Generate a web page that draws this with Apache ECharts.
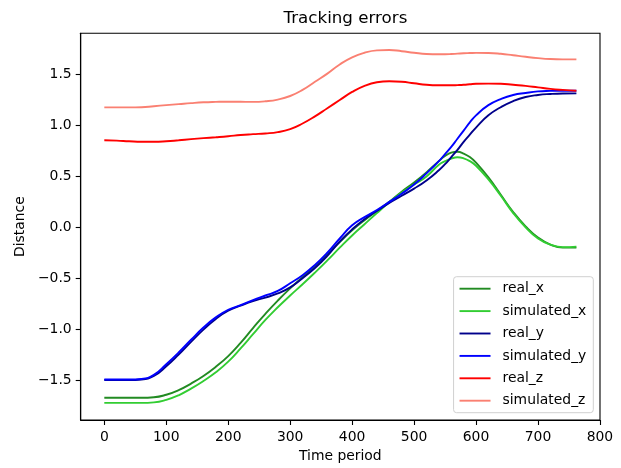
<!DOCTYPE html>
<html>
<head>
<meta charset="utf-8">
<script src="https://cdn.jsdelivr.net/npm/echarts@6/dist/echarts.min.js"></script>
<style>
  html, body { margin: 0; padding: 0; background: #ffffff; }
  #chart { width: 621px; height: 468px; }
</style>
</head>
<body>
<div id="chart"></div>
<script>
// Time steps (every 20 periods, denser around the x peak)
const timeSteps = [0, 20, 40, 60, 80, 100, 120, 140, 160, 180, 200, 220, 240, 260, 280, 300, 320, 340, 360, 380,
  400, 420, 440, 460, 480, 500, 520, 540, 550, 560, 570, 580, 590, 600, 620, 640, 660, 680, 700, 720, 740, 762];

const realX = [-1.675, -1.675, -1.675, -1.675, -1.67, -1.645, -1.60, -1.535, -1.46, -1.37, -1.265, -1.135, -0.99, -0.85, -0.72, -0.60, -0.49, -0.38, -0.265, -0.145,
  -0.03, 0.07, 0.16, 0.25, 0.35, 0.44, 0.54, 0.65, 0.70, 0.733, 0.742, 0.725, 0.69, 0.635, 0.49, 0.32, 0.15, 0.01, -0.10, -0.17, -0.20, -0.20];

const simulatedX = [-1.725, -1.725, -1.725, -1.725, -1.72, -1.695, -1.65, -1.585, -1.51, -1.425, -1.32, -1.19, -1.05, -0.91, -0.785, -0.67, -0.56, -0.445, -0.325, -0.20,
  -0.08, 0.03, 0.14, 0.245, 0.34, 0.42, 0.50, 0.615, 0.65, 0.675, 0.688, 0.678, 0.65, 0.605, 0.47, 0.31, 0.14, 0.0, -0.11, -0.17, -0.195, -0.19];

const realY = [-1.50, -1.50, -1.50, -1.495, -1.46, -1.365, -1.25, -1.125, -1.005, -0.90, -0.82, -0.77, -0.725, -0.69, -0.65, -0.59, -0.50, -0.40, -0.28, -0.14,
  -0.02, 0.08, 0.16, 0.24, 0.31, 0.38, 0.46, 0.56, 0.62, 0.69, 0.76, 0.84, 0.91, 0.98, 1.10, 1.18, 1.24, 1.28, 1.30, 1.31, 1.315, 1.316];

const simulatedY = [-1.495, -1.495, -1.495, -1.49, -1.45, -1.345, -1.23, -1.105, -0.985, -0.885, -0.81, -0.765, -0.715, -0.67, -0.625, -0.55, -0.47, -0.37, -0.25, -0.11,
  0.02, 0.10, 0.17, 0.25, 0.33, 0.42, 0.53, 0.65, 0.72, 0.79, 0.87, 0.95, 1.03, 1.10, 1.20, 1.26, 1.30, 1.32, 1.335, 1.34, 1.342, 1.342];

const realZ = [0.855, 0.852, 0.845, 0.84, 0.84, 0.845, 0.855, 0.866, 0.876, 0.885, 0.895, 0.907, 0.915, 0.922, 0.935, 0.965, 1.02, 1.09, 1.17, 1.25,
  1.33, 1.39, 1.425, 1.435, 1.43, 1.415, 1.40, 1.395, 1.395, 1.395, 1.397, 1.40, 1.405, 1.41, 1.412, 1.41, 1.40, 1.39, 1.375, 1.36, 1.35, 1.342];

const simulatedZ = [1.178, 1.178, 1.178, 1.18, 1.19, 1.20, 1.21, 1.22, 1.228, 1.232, 1.234, 1.233, 1.232, 1.238, 1.255, 1.29, 1.35, 1.43, 1.51, 1.60,
  1.67, 1.715, 1.738, 1.742, 1.73, 1.715, 1.703, 1.70, 1.70, 1.702, 1.706, 1.71, 1.712, 1.714, 1.713, 1.705, 1.69, 1.675, 1.662, 1.653, 1.65, 1.65];

const xTicks = [0, 100, 200, 300, 400, 500, 600, 700, 800];
const yTicks = [-1.5, -1.0, -0.5, 0.0, 0.5, 1.0, 1.5];

const seriesNames = ['real_x', 'simulated_x', 'real_y', 'simulated_y', 'real_z', 'simulated_z'];
const seriesValues = [realX, simulatedX, realY, simulatedY, realZ, simulatedZ];
const seriesColors = ['#228b22', '#32cd32', '#00008b', '#0000ff', '#ff0000', '#fa8072'];

const FONT = 'DejaVu Sans';

const chart = echarts.init(document.getElementById('chart'), null, { renderer: 'canvas' });

const series = seriesNames.map((name, i) => ({
  name: name,
  type: 'line',
  data: timeSteps.map((t, k) => [t, seriesValues[i][k]]),
  symbol: 'none',
  smooth: 0.5,
  color: seriesColors[i],
  lineStyle: { color: seriesColors[i], width: 1.9 },
  animation: false
}));

chart.setOption({
  animation: false,
  backgroundColor: '#ffffff',
  title: {
    text: 'Tracking errors',
    left: 340.4,
    textAlign: 'center',
    top: 5,
    textStyle: { fontFamily: FONT, fontSize: 16.7, fontWeight: 'normal', color: '#000000' }
  },
  grid: {
    left: 80.7, right: 21, top: 33.3, bottom: 48,
    show: true, borderColor: '#000000', borderWidth: 1.1, backgroundColor: 'transparent'
  },
  legend: {
    orient: 'vertical',
    right: 27.7,
    top: 276.7,
    data: seriesNames,
    itemWidth: 31,
    itemHeight: 14,
    itemGap: 8.4,
    padding: [5, 7, 5, 5],
    backgroundColor: '#ffffff',
    borderColor: '#d0d0d0',
    borderWidth: 1,
    borderRadius: 3,
    itemStyle: { opacity: 0 },
    lineStyle: { width: 1.9 },
    textStyle: { fontFamily: FONT, fontSize: 13.9, color: '#000000', padding: [0, 0, 0, 7] }
  },
  xAxis: {
    type: 'value',
    min: -38.1,
    max: 800.1,
    name: 'Time period',
    nameLocation: 'middle',
    nameGap: 28,
    nameTextStyle: { fontFamily: FONT, fontSize: 13.9, color: '#000000' },
    splitLine: { show: false },
    axisLine: { show: true, onZero: false, lineStyle: { color: '#000000', width: 1.1 } },
    axisTick: { show: true, length: 5, customValues: xTicks, lineStyle: { color: '#000000', width: 1.1 } },
    axisLabel: { customValues: xTicks, margin: 10, fontFamily: FONT, fontSize: 13.9, color: '#000000' }
  },
  yAxis: {
    type: 'value',
    min: -1.893,
    max: 1.906,
    name: 'Distance',
    nameLocation: 'middle',
    nameGap: 53,
    nameRotate: 90,
    nameTextStyle: { fontFamily: FONT, fontSize: 13.9, color: '#000000' },
    splitLine: { show: false },
    axisLine: { show: true, onZero: false, lineStyle: { color: '#000000', width: 1.1 } },
    axisTick: { show: true, length: 5, customValues: yTicks, lineStyle: { color: '#000000', width: 1.1 } },
    axisLabel: {
      customValues: yTicks,
      margin: 9,
      fontFamily: FONT, fontSize: 13.9, color: '#000000',
      formatter: v => (v < 0 ? '\u2212' : '') + Math.abs(v).toFixed(1)
    }
  },
  series: series
});
</script>
</body>
</html>
